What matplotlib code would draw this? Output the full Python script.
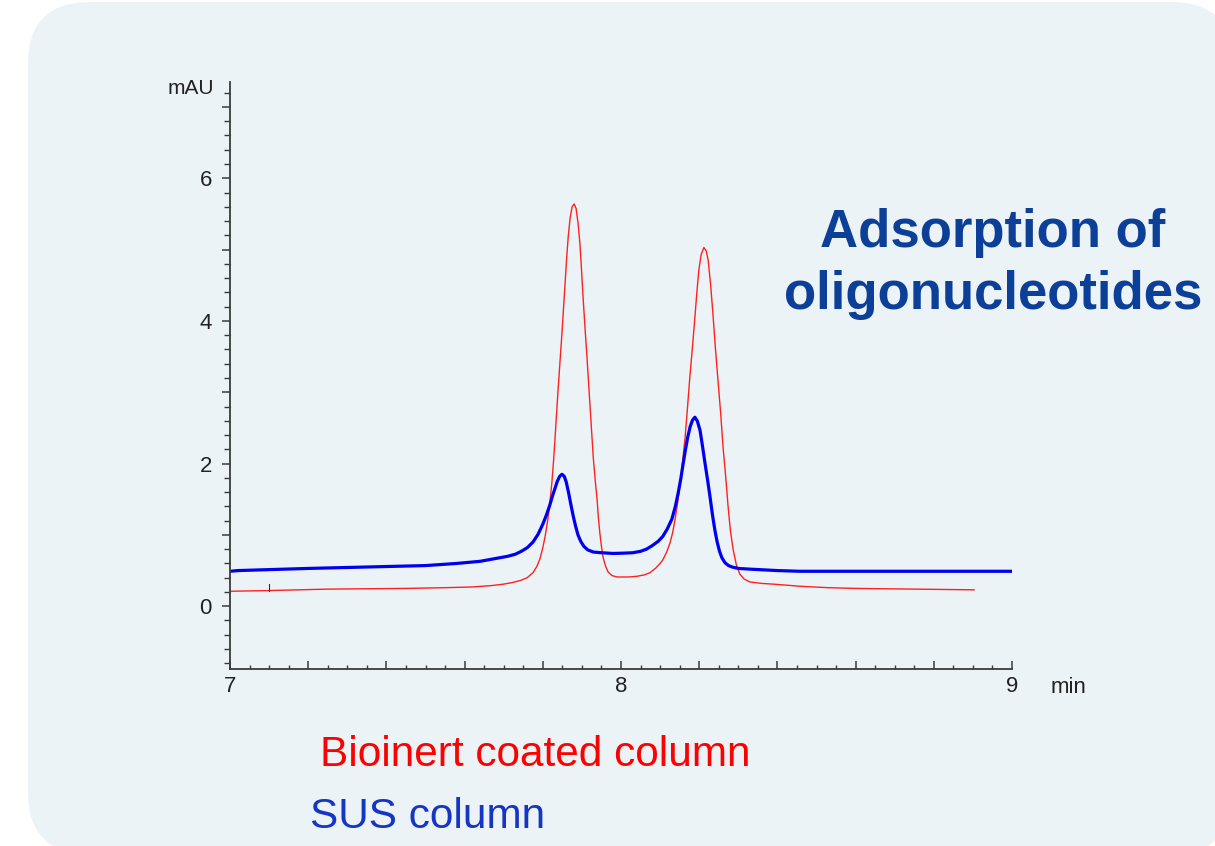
import matplotlib
matplotlib.use("Agg")
import matplotlib.pyplot as plt
from matplotlib.patches import FancyBboxPatch
from matplotlib.ticker import MultipleLocator, FuncFormatter

plt.rcParams['font.family'] = ['Liberation Sans', 'DejaVu Sans']

# Bioinert coated column trace (time in min, signal in mAU)
red_t = [7.00, 7.10, 7.25, 7.45, 7.55, 7.62, 7.67, 7.70, 7.72, 7.742, 7.760,
         7.775, 7.785, 7.793, 7.800, 7.806, 7.813, 7.818, 7.823, 7.827, 7.831,
         7.835, 7.839, 7.844, 7.849, 7.853, 7.857, 7.861, 7.865, 7.870, 7.875,
         7.880, 7.885, 7.890, 7.895, 7.899, 7.903, 7.908, 7.913, 7.917, 7.921,
         7.925, 7.929, 7.934, 7.939, 7.942, 7.946, 7.950, 7.954, 7.960, 7.967,
         7.977, 7.990, 8.020, 8.041, 8.060, 8.074, 8.090, 8.100, 8.107, 8.116,
         8.125, 8.132, 8.138, 8.145, 8.151, 8.158, 8.164, 8.170, 8.176, 8.183,
         8.189, 8.194, 8.199, 8.205, 8.212, 8.218, 8.223, 8.229, 8.235, 8.241,
         8.248, 8.255, 8.261, 8.268, 8.274, 8.280, 8.287, 8.295, 8.304, 8.315,
         8.330, 8.360, 8.389, 8.458, 8.530, 8.600, 8.750, 8.903]
red_y = [0.21, 0.22, 0.24, 0.25, 0.26, 0.27, 0.29, 0.31, 0.33, 0.36, 0.40,
         0.47, 0.56, 0.67, 0.82, 0.98, 1.22, 1.45, 1.72, 2.00, 2.33,
         2.68, 3.03, 3.43, 3.83, 4.18, 4.53, 4.88, 5.18, 5.45, 5.60,
         5.64, 5.58, 5.38, 5.08, 4.72, 4.33, 3.90, 3.49, 3.14, 2.79,
         2.44, 2.09, 1.77, 1.49, 1.25, 1.02, 0.84, 0.69, 0.57, 0.48,
         0.43, 0.41, 0.41, 0.42, 0.44, 0.47, 0.54, 0.60, 0.65, 0.75,
         0.88, 1.03, 1.21, 1.46, 1.72, 2.05, 2.37, 2.78, 3.21, 3.65,
         4.05, 4.40, 4.71, 4.93, 5.03, 4.98, 4.85, 4.52, 4.11, 3.65,
         3.17, 2.70, 2.23, 1.80, 1.39, 1.05, 0.79, 0.58, 0.45, 0.38,
         0.34, 0.32, 0.31, 0.28, 0.26, 0.25, 0.24, 0.23]

# SUS column trace
blue_t = [7.00, 7.02, 7.20, 7.35, 7.50, 7.58, 7.64, 7.68, 7.71, 7.73, 7.745,
          7.760, 7.775, 7.788, 7.800, 7.810, 7.818, 7.825, 7.831, 7.837, 7.843,
          7.849, 7.855, 7.860, 7.866, 7.872, 7.878, 7.884, 7.890, 7.897, 7.905,
          7.915, 7.929, 7.950, 7.980, 8.010, 8.030, 8.050, 8.065, 8.080, 8.095,
          8.107, 8.118, 8.130, 8.139, 8.146, 8.153, 8.159, 8.165, 8.171, 8.177,
          8.183, 8.189, 8.195, 8.202, 8.208, 8.215, 8.222, 8.228, 8.234, 8.240,
          8.246, 8.252, 8.258, 8.266, 8.275, 8.284, 8.300, 8.330, 8.400, 8.458,
          8.700, 9.000]
blue_y = [0.49, 0.50, 0.53, 0.55, 0.57, 0.60, 0.63, 0.67, 0.70, 0.73, 0.77,
          0.82, 0.90, 1.01, 1.15, 1.29, 1.42, 1.55, 1.65, 1.75, 1.82,
          1.85, 1.82, 1.74, 1.59, 1.42, 1.26, 1.12, 1.00, 0.91, 0.84,
          0.79, 0.76, 0.75, 0.74, 0.745, 0.75, 0.77, 0.80, 0.85, 0.91,
          0.98, 1.08, 1.22, 1.40, 1.58, 1.79, 2.00, 2.20, 2.38, 2.52,
          2.61, 2.65, 2.60, 2.47, 2.26, 2.00, 1.75, 1.52, 1.28, 1.07,
          0.90, 0.77, 0.68, 0.61, 0.57, 0.55, 0.53, 0.52, 0.50, 0.49,
          0.49, 0.49]

# injection / event marker
event_t = [7.1]
event_y = [0.22, 0.31]

W, H = 1215, 846
fig = plt.figure(figsize=(W / 100, H / 100), dpi=100)
fig.patch.set_facecolor('white')

# rounded slide panel behind everything
bg = fig.add_axes([0, 0, 1, 1], zorder=0)
bg.set_xlim(0, W)
bg.set_ylim(0, H)
bg.axis('off')
bg.add_patch(FancyBboxPatch((28, -8), 1205, 852,
                            boxstyle="round,pad=0,rounding_size=62",
                            facecolor='#ecf3f7', edgecolor='none'))

ax = fig.add_axes([230 / W, 1 - 669 / H, (1012 - 230) / W, (669 - 82) / H], zorder=1)
ax.patch.set_alpha(0)

ax.plot(red_t, red_y, color='#ff2020', lw=1.0)
ax.plot(blue_t, blue_y, color='#0000ee', lw=2.3)
for t in event_t:
    ax.plot([t, t], event_y, color='#333333', lw=0.8)

ax.set_xlim(7, 9)
ax.set_ylim(-0.88, 7.35)

for side in ['top', 'right']:
    ax.spines[side].set_visible(False)
for side in ['left', 'bottom']:
    ax.spines[side].set_color('#3a3a3a')
    ax.spines[side].set_linewidth(1.3)

ax.yaxis.set_major_locator(MultipleLocator(1))
ax.yaxis.set_minor_locator(MultipleLocator(0.2))
ax.yaxis.set_major_formatter(FuncFormatter(
    lambda v, p: f"{int(round(v))}" if round(v) % 2 == 0 else ""))
ax.xaxis.set_major_locator(MultipleLocator(0.2))
ax.xaxis.set_minor_locator(MultipleLocator(0.05))
ax.xaxis.set_major_formatter(FuncFormatter(
    lambda v, p: f"{int(round(v))}" if abs(v - round(v)) < 1e-6 else ""))

ax.tick_params(axis='y', which='major', direction='out', length=6, width=1.1,
               color='#3a3a3a', labelsize=16, pad=7, labelcolor='#222222')
ax.tick_params(axis='y', which='minor', direction='out', length=4, width=1.0,
               color='#3a3a3a')
ax.tick_params(axis='x', which='major', direction='in', length=6, width=1.1,
               color='#3a3a3a', labelsize=16, pad=5, labelcolor='#222222')
ax.tick_params(axis='x', which='minor', direction='in', length=3, width=1.0,
               color='#3a3a3a')

fig.text(191 / W, 1 - 89 / H, "mAU", fontsize=15, color='#222222',
         ha='center', va='center')
fig.text(1069 / W, 1 - 687 / H, "min", fontsize=16, color='#222222',
         ha='center', va='center')

fig.text(993 / W, 1 - 264 / H, "Adsorption of\noligonucleotides", fontsize=38,
         fontweight='bold', color='#0c3f97', ha='center', va='center',
         linespacing=1.3)

fig.text(320 / W, 1 - 755 / H, "Bioinert coated column", fontsize=30.5,
         color='#ff0000', ha='left', va='center')
fig.text(310 / W, 1 - 817 / H, "SUS column", fontsize=30.5,
         color='#1535c4', ha='left', va='center')

fig.savefig("out.png", dpi=100)
